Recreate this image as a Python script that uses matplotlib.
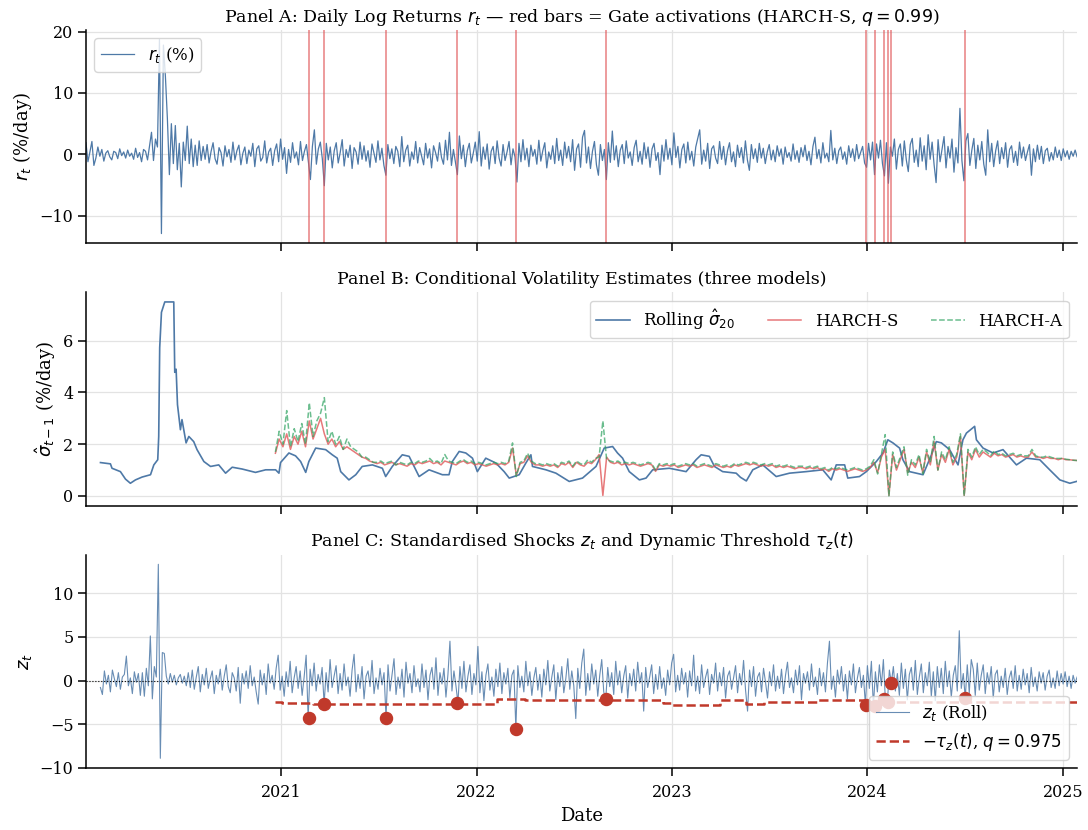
#!/usr/bin/env python
"""
Three-panel volatility figure: returns with gate activations, conditional
volatility estimates and standardised shocks with the dynamic threshold.
"""
import numpy as np
import pandas as pd
import matplotlib
matplotlib.use("Agg")
import matplotlib.pyplot as plt
import matplotlib.dates as mdates

plt.rc("font", family="DejaVu Serif", size=11)
plt.rc("axes", grid=True, axisbelow=True, linewidth=1.1, edgecolor="black",
       titlesize=12.5, labelsize=13)
plt.rc("grid", color="#e3e3e3", linewidth=0.9)
plt.rc(["xtick", "ytick"], labelsize=11.5, direction="out")
plt.rc("xtick.major", size=5.5, width=1.1, pad=6)
plt.rc("ytick.major", size=5.5, width=1.1)

START = "2020-01-02"
END = "2025-01-27"

# daily log returns (%), read about every 2.5 trading days
R_T = [
    1.9, -1.2, 0.4, 2.1, -1.8, -0.6, 1.2, -0.3, 0.8, -1.1, 0.2, 0.6, -0.4, -0.9, 0.5, 0.3, -0.7, 0.9, -0.2, 0.4,
    -0.6, 0.7, -0.3, 0.2, -0.8, 1.0, -0.5, 0.3, -1.2, 0.8, 0.5, -0.9, 1.3, 3.6, -1.0, 2.5, 1.2, 18.7, -12.9, 17.8,
    12.7, 5.8, -3.3, 5.0, -1.5, 4.7, -2.5, 1.8, -5.3, 2.0, -1.0, 4.6, -1.5, 2.5, -2.0, 1.5, -1.8, 2.2, -1.0, 1.3,
    -0.8, 1.6, -1.4, 0.5, 1.9, -0.7, -1.6, 1.1, 0.3, -1.9, 1.4, -0.4, 0.8, -1.3, 2.0, -0.9, 0.6, 1.5, -1.7, 0.2,
    1.2, -1.5, 0.7, -0.3, 1.8, -2.0, 0.9, 1.4, -1.1, -0.5, 2.2, -1.4, 0.4, 1.0, -1.8, 0.6, 1.7, -1.2, 2.5, -0.8,
    1.1, -3.1, 0.8, -1.3, 1.9, -0.6, 0.4, -1.7, 2.1, -1.0, 0.5, 1.6, -1.2, -4.1, 1.3, 4.0, -1.6, 0.9, 2.0, -0.7,
    -5.1, 1.8, -0.9, 1.2, -2.2, 0.6, 1.9, -1.4, 0.3, 2.4, -1.9, 0.8, -0.5, 1.5, -2.3, 1.1, 0.4, -1.6, 2.0, -0.8,
    1.4, -1.1, 0.6, -2.1, 1.7, 0.2, -1.3, 2.2, -0.9, 1.0, -1.8, -3.4, 1.6, -0.7, 0.9, -1.5, 1.3, 0.5, -2.0, 2.9,
    -1.2, 0.7, 1.5, -1.9, 0.4, -0.8, 2.1, -1.4, 1.1, -0.3, -1.7, 1.8, -0.6, 0.9, -2.2, 1.4, 0.3, -1.1, 1.9, -0.5,
    -1.6, 2.3, -0.9, 3.6, -1.8, 0.8, -1.2, -3.3, 3.0, -0.7, 1.5, -2.0, 0.6, 1.8, -1.4, 0.2, 2.0, -1.1, 3.7, -1.9,
    1.2, -0.8, 1.7, -2.4, 0.5, 1.3, -1.5, 2.2, -0.6, -1.9, 1.6, -1.0, 0.4, 2.1, -1.7, 0.9, -0.4, -4.5, 1.8, -1.2,
    2.4, -0.9, 1.0, -2.0, 1.5, -0.3, 0.8, -1.6, 2.3, -1.1, 0.6, 1.9, -2.2, 0.4, -0.8, 1.4, -1.5, 2.6, -1.0, 0.7,
    -1.8, 2.0, -0.6, 1.3, -1.2, 2.4, -2.6, 0.9, 1.7, -2.1, 2.8, 3.9, -1.4, 1.2, -2.3, 0.5, 2.1, -1.7, -3.4, 1.6,
    -1.0, 0.8, -4.1, 1.9, -1.3, 3.8, -0.9, 1.4, -2.0, 0.7, 1.6, -1.5, 2.2, -0.6, 0.4, -1.8, 1.1, 2.3, -1.2, 0.5,
    -1.6, 1.9, -0.7, 1.2, -2.1, 0.9, 1.8, -1.0, 0.3, -3.3, 1.5, -1.1, 2.4, -0.8, 1.0, -1.7, 3.5, -0.5, 1.3, -2.2,
    0.8, 1.7, -1.4, 2.0, -0.9, 0.5, -1.9, 1.2, 2.6, 4.0, -1.6, 0.7, -1.1, 1.8, -2.3, 0.9, 1.4, -0.6, -1.5, 2.1,
    -0.8, 1.3, -1.7, 0.6, 1.9, -1.2, 0.4, -2.0, 1.5, -0.5, 1.1, -1.4, 2.2, -0.9, -2.6, 1.6, -0.7, 0.9, -1.3, 1.8,
    -0.6, 1.0, -1.5, 0.4, 1.6, -0.9, 0.7, -1.2, 1.4, -0.3, 0.9, -1.6, 1.2, -0.5, 0.3, -1.1, 1.7, -0.8, 0.6, -1.3,
    1.1, -0.4, 1.5, -1.0, 0.5, -1.7, 1.3, 2.8, -0.7, 0.8, -1.4, 1.9, -0.6, 0.2, -1.2, 3.9, -0.9, 1.0, -1.5, 0.6,
    1.2, -0.8, 0.4, -1.6, 1.4, -0.5, 0.9, -1.1, 1.6, -0.7, 0.3, 1.3, -1.4, -2.1, 1.8, -0.9, 2.0, -3.3, 1.7, -0.6,
    2.3, -1.5, -3.5, 1.9, -4.7, 1.2, -0.3, 2.5, -2.4, 0.8, 1.7, -1.9, 2.2, -0.9, -2.8, 1.6, 2.6, -1.3, 0.7, -2.0,
    2.7, -1.1, 1.4, -2.5, 3.2, -0.8, 2.0, -1.7, -4.6, 2.4, -1.2, 0.9, 2.9, -2.2, 1.3, -0.6, 2.5, -2.9, 1.1, -1.4,
    7.5, -1.0, -4.3, 2.2, 3.4, -1.8, 0.7, 2.6, -2.3, 1.5, -0.9, 2.1, -1.6, -3.4, 4.0, -1.2, 1.8, -2.0, 0.6, 2.2,
    -1.5, 1.1, -0.7, 1.9, -2.1, 0.8, 1.4, -1.3, 0.5, -1.8, 2.0, -0.6, 1.2, -1.0, 0.4, 1.6, -3.4, 0.9, -1.2, 1.5,
    -0.8, 1.3, -1.5, 0.6, 1.0, -1.1, 0.3, -0.9, 1.2, -0.5, 0.7, -1.0, 0.9, -0.4, 0.6, -0.8, 0.5, -0.3, 0.7, -0.4,
]

# standardised shocks z_t (rolling sigma), same reading, from late Jan 2020
Z_START = "2020-01-29"
Z_T = [
    -0.8, -1.6, 1.1, -0.4, 0.6, -1.3, 1.2, 0.2, -0.7, 0.9, -1.0, 0.4, 0.7, 2.8, -0.6, 0.3, -1.5, 1.0, -0.2, 0.8,
    -1.7, 0.9, -1.8, 1.4, -0.6, 5.1, -2.1, 1.6, 0.4, 13.3, -8.9, 3.2, 3.1, 0.5, -0.4, 0.8, -0.2, 0.6, -0.5, 0.3,
    0.7, -0.3, 0.5, -0.6, 0.9, -0.8, 1.2, -1.0, 0.4, 1.6, -1.3, 0.7, -0.5, 1.4, -0.9, 0.2, 1.1, -1.5, 0.6, -0.4,
    1.3, -1.1, 0.5, 1.8, -0.7, -1.4, 0.9, 0.3, -1.2, 1.5, -2.6, 0.8, -0.4, 1.1, -0.9, 1.7, -0.6, 0.4, -1.3, -2.7,
    1.2, -0.5, 0.8, -1.6, 1.9, -0.3, 0.6, -1.0, 1.4, 2.9, -1.1, 0.5, -1.8, 1.0, -0.7, 2.2, -1.4, 0.3, 1.6, -0.9,
    1.1, -1.7, 0.4, 2.9, -4.27, 1.3, -0.6, 2.0, -1.2, 0.7, -0.4, 1.5, -2.68, 0.9, -1.3, 2.4, -0.8, 0.5, 1.7, -1.5,
    0.8, -1.1, 1.9, -0.6, 0.4, -1.8, 1.2, 3.0, -1.3, 0.7, -0.9, 1.6, -2.1, 0.5, 1.1, -0.7, 2.3, -1.5, 0.3, -1.0,
    1.4, -0.5, 0.9, -4.24, 1.8, -1.2, 0.6, 2.5, -1.6, 0.4, -0.9, 1.3, -1.9, 2.1, -0.3, 0.8, -1.4, 1.7, -0.7, 0.2,
    -1.3, 1.9, -0.8, 1.2, -2.2, 0.6, 1.5, -1.0, 2.6, -1.7, 0.9, -0.4, 1.4, -1.9, 0.7, 4.5, -1.2, 1.1, -0.6, -2.57,
    1.6, -0.9, 2.2, -1.3, 0.5, 1.8, -1.6, 0.8, -0.5, 3.9, -1.4, 1.0, -2.3, 0.6, 1.9, -1.1, 0.4, -1.8, 1.3, -0.7,
    2.0, -1.5, 0.9, -0.4, 1.4, -2.0, 0.6, 1.2, -5.52, 1.7, -0.8, 0.5, -1.3, 2.2, -0.6, 1.0, -1.7, 0.3, 1.5, -1.1,
    0.7, -1.9, 1.3, -0.5, 2.3, -1.2, 0.4, 1.8, -2.2, 0.9, -0.7, 1.6, -1.4, 0.2, 2.5, -1.0, 1.1, -0.6, -4.35, 1.4,
    -0.9, 2.0, 3.6, -1.7, 0.8, -1.1, 1.9, -0.4, 1.2, -1.8, 0.6, 2.4, -1.3, -2.16, 1.5, -0.7, 0.9, -1.6, 2.2, -0.5,
    1.1, -1.4, 0.5, 1.7, -2.0, 0.8, -0.6, 1.3, -1.2, 2.1, -0.3, 0.9, -3.5, 1.5, -0.8, 0.4, 1.8, -1.5, 0.7, -1.0,
    1.6, -0.9, 0.3, -1.7, 1.2, -0.5, 2.0, 3.0, -1.3, 0.6, -1.1, 1.4, -0.4, 0.9, -1.9, 1.1, -0.6, 2.9, -1.2, 0.5,
    -1.5, 1.8, -0.8, 0.4, 1.3, -1.6, 0.7, -0.3, 2.0, -1.2, 0.9, -0.6, 1.5, -2.0, 0.5, 1.1, -1.0, 0.3, 1.7, -1.4,
    0.8, -0.5, 2.3, -1.1, -3.5, 1.2, -0.7, 1.6, -1.8, 0.4, 0.9, -1.3, 1.4, -0.2, -2.0, 1.0, -0.6, 1.8, -1.2, 0.5,
    -0.9, 1.3, -1.5, 0.6, 2.1, -0.8, 0.3, -1.4, 1.2, -0.5, 1.7, -2.2, 0.8, -0.3, 1.0, -1.1, 1.9, -0.7, 0.4, -1.6,
    1.4, -0.6, 0.9, -1.3, 2.0, 4.5, -1.0, 0.5, -1.9, 1.2, -0.4, 1.6, -1.2, 0.7, -2.1, 1.1, -0.5, 1.9, -1.4, 0.3,
    1.5, -0.8, 0.6, -2.8, 1.7, -0.9, 2.2, -2.95, 1.0, -1.3, 1.8, -0.6, 2.4, -2.16, -2.5, 1.2, -0.26, 1.6, -1.2, 0.8,
    -1.7, 2.0, -0.9, 1.3, -2.2, 0.7, 1.5, -1.1, 2.3, -1.6, 0.4, 1.9, -1.4, 0.9, -0.6, 2.1, -1.8, 1.0, -2.3, 1.6,
    -0.8, 1.4, -1.5, 2.2, -0.7, 1.1, -1.9, 0.6, 1.7, -1.2, 5.7, -0.9, 0.8, -2.0, 1.8, -1.4, 2.4, 1.3, -1.7, 2.0,
    -1.1, 0.6, 1.8, -1.5, 0.9, -0.4, 1.6, -2.0, 0.7, 1.2, -1.3, 0.5, -0.8, 1.4, -1.6, 0.3, 1.1, -0.9, 1.7, -1.2,
    0.6, -1.0, 1.3, -0.5, 0.8, -1.4, 1.5, -0.7, 0.4, -1.2, 1.0, -0.3, 0.9, -1.1, 0.5, 1.2, -0.8, 0.3, -0.9, 1.1,
    -0.6, 0.8, -0.4, 1.0, -0.7, 0.5, -0.9, 0.6, -0.3, 0.4,
]

# rolling 20-day sigma, (decimal year, %/day) turning points
SIGMA_ROLL = [
    (2020.077, 1.29), (2020.128, 1.24), (2020.136, 1.07), (2020.179, 0.94),
    (2020.205, 0.65), (2020.230, 0.49), (2020.256, 0.62), (2020.290, 0.73),
    (2020.333, 0.82), (2020.350, 1.20), (2020.370, 1.40), (2020.375, 2.30),
    (2020.380, 5.73), (2020.389, 7.10), (2020.406, 7.50), (2020.452, 7.50),
    (2020.457, 4.78), (2020.464, 4.90), (2020.471, 3.53), (2020.486, 2.56),
    (2020.494, 2.95), (2020.515, 2.05), (2020.529, 2.30), (2020.554, 2.10),
    (2020.571, 1.79), (2020.606, 1.33), (2020.640, 1.14), (2020.682, 1.20),
    (2020.717, 0.88), (2020.751, 1.11), (2020.802, 1.04), (2020.870, 0.91),
    (2020.922, 1.01), (2020.973, 1.01), (2020.990, 0.88), (2020.998, 1.29),
    (2021.041, 1.66), (2021.075, 1.55), (2021.101, 1.33), (2021.127, 0.91),
    (2021.143, 1.33), (2021.178, 1.85), (2021.229, 1.79), (2021.263, 1.59),
    (2021.288, 1.46), (2021.306, 0.94), (2021.348, 0.62), (2021.383, 0.82),
    (2021.416, 1.14), (2021.468, 1.20), (2021.519, 1.07), (2021.536, 0.75),
    (2021.570, 1.14), (2021.621, 1.59), (2021.656, 1.53), (2021.690, 1.01),
    (2021.707, 0.75), (2021.758, 1.01), (2021.826, 0.82), (2021.860, 0.82),
    (2021.877, 1.33), (2021.912, 1.72), (2021.946, 1.66), (2021.980, 1.46),
    (2022.005, 0.94), (2022.048, 1.46), (2022.100, 1.27), (2022.142, 0.94),
    (2022.168, 0.69), (2022.219, 0.82), (2022.253, 1.27), (2022.279, 1.59),
    (2022.287, 1.14), (2022.356, 1.01), (2022.407, 0.88), (2022.475, 0.56),
    (2022.543, 0.69), (2022.612, 1.14), (2022.654, 1.85), (2022.697, 1.91),
    (2022.722, 1.66), (2022.748, 1.46), (2022.782, 0.94), (2022.834, 0.62),
    (2022.868, 0.69), (2022.902, 1.01), (2022.987, 1.07), (2023.073, 0.94),
    (2023.124, 1.40), (2023.150, 1.59), (2023.192, 1.53), (2023.218, 1.14),
    (2023.260, 0.94), (2023.329, 0.88), (2023.351, 0.72), (2023.381, 0.58),
    (2023.414, 1.01), (2023.465, 1.20), (2023.534, 0.75), (2023.602, 0.88),
    (2023.687, 0.94), (2023.772, 1.01), (2023.815, 0.62), (2023.841, 1.20),
    (2023.884, 1.20), (2023.900, 0.69), (2023.960, 0.75), (2023.995, 0.94),
    (2024.046, 1.33), (2024.080, 1.66), (2024.105, 2.17), (2024.131, 2.05),
    (2024.165, 1.85), (2024.182, 1.40), (2024.216, 0.94), (2024.285, 0.82),
    (2024.328, 1.59), (2024.353, 2.10), (2024.379, 2.05), (2024.421, 1.79),
    (2024.464, 1.20), (2024.489, 2.17), (2024.507, 2.43), (2024.549, 2.69),
    (2024.558, 2.17), (2024.592, 1.85), (2024.643, 1.66), (2024.694, 1.79),
    (2024.763, 1.20), (2024.814, 1.46), (2024.882, 1.40), (2024.933, 1.01),
    (2024.985, 0.62), (2025.036, 0.49), (2025.070, 0.56),
]

# HARCH forecasts, weekly from 2020-12-21
HARCH_START = "2020-12-21"
HARCH_S = [
    1.65, 2.2, 1.9, 2.4, 1.8, 2.3, 2.0, 2.5, 1.9, 2.9,
    2.2, 2.6, 3.0, 2.4, 2.0, 2.2, 1.9, 2.1, 1.8, 1.9,
    1.8, 1.7, 1.6, 1.5, 1.45, 1.35, 1.3, 1.25, 1.3, 1.2,
    1.25, 1.3, 1.2, 1.25, 1.2, 1.15, 1.25, 1.2, 1.3, 1.25,
    1.3, 1.35, 1.25, 1.3, 1.2, 1.35, 1.3, 1.25, 1.2, 1.3,
    1.35, 1.25, 1.3, 1.2, 1.25, 1.2, 1.15, 1.2, 1.25, 1.2,
    1.25, 1.2, 1.3, 1.85, 0.8, 1.25, 1.3, 1.55, 1.3, 1.2,
    1.2, 1.15, 1.2, 1.15, 1.2, 1.1, 1.25, 1.2, 1.3, 1.1,
    1.3, 1.2, 1.15, 1.3, 1.25, 1.4, 1.6, 0.02, 1.5, 1.3,
    1.25, 1.3, 1.2, 1.25, 1.2, 1.25, 1.2, 1.15, 1.2, 1.25,
    1.2, 0.95, 1.2, 1.15, 1.2, 1.15, 1.2, 1.1, 1.15, 1.2,
    1.15, 1.2, 1.1, 1.15, 1.2, 1.15, 1.1, 1.2, 1.15, 1.1,
    1.15, 1.1, 1.2, 1.15, 1.2, 1.25, 1.2, 1.25, 1.2, 1.15,
    1.2, 1.15, 1.2, 1.1, 1.15, 1.1, 1.15, 1.1, 1.05, 1.1,
    1.1, 1.05, 1.1, 1.05, 1.1, 1.0, 1.05, 0.95, 1.05, 1.0,
    1.05, 1.0, 0.95, 1.0, 1.05, 1.0, 0.95, 1.0, 1.1, 1.3,
    0.9, 1.5, 1.8, 0.02, 1.6, 1.0, 1.4, 1.8, 0.9, 1.3,
    1.1, 1.5, 0.9, 1.7, 1.2, 2.1, 1.0, 1.6, 1.3, 1.8,
    1.2, 1.5, 2.3, 0.02, 1.7, 1.4, 1.8, 1.5, 1.7, 1.6,
    1.5, 1.65, 1.55, 1.6, 1.5, 1.55, 1.6, 1.5, 1.55, 1.5,
    1.5, 1.7, 1.5, 1.5, 1.45, 1.5, 1.45, 1.45, 1.4, 1.45,
    1.4, 1.4, 1.38, 1.37,
]
HARCH_A = [
    1.7, 2.5, 2.0, 3.3, 1.9, 2.6, 2.1, 2.8, 2.0, 3.6,
    2.3, 2.9, 3.2, 3.8, 2.1, 2.5, 2.0, 2.3, 1.8, 2.2,
    1.9, 1.8, 1.7, 1.5, 1.5, 1.4, 1.3, 1.3, 1.35, 1.25,
    1.3, 1.35, 1.2, 1.3, 1.25, 1.2, 1.3, 1.25, 1.35, 1.3,
    1.35, 1.45, 1.3, 1.35, 1.25, 1.6, 1.35, 1.3, 1.25, 1.35,
    1.4, 1.3, 1.35, 1.25, 1.3, 1.25, 1.2, 1.25, 1.3, 1.25,
    1.3, 1.25, 1.35, 2.05, 0.75, 1.3, 1.35, 1.65, 1.35, 1.25,
    1.25, 1.2, 1.25, 1.2, 1.25, 1.15, 1.3, 1.25, 1.35, 1.15,
    1.35, 1.25, 1.2, 1.4, 1.3, 1.45, 1.5, 2.9, 1.4, 1.35,
    1.3, 1.35, 1.25, 1.3, 1.25, 1.3, 1.25, 1.2, 1.25, 1.3,
    1.25, 1.0, 1.25, 1.2, 1.25, 1.2, 1.25, 1.15, 1.2, 1.25,
    1.2, 1.25, 1.15, 1.2, 1.25, 1.2, 1.15, 1.25, 1.2, 1.15,
    1.2, 1.15, 1.25, 1.2, 1.25, 1.3, 1.25, 1.3, 1.25, 1.2,
    1.25, 1.2, 1.25, 1.15, 1.2, 1.15, 1.2, 1.15, 1.1, 1.15,
    1.15, 1.1, 1.15, 1.1, 1.15, 1.05, 1.1, 1.0, 1.1, 1.05,
    1.1, 1.05, 1.0, 1.05, 1.1, 1.05, 1.0, 1.05, 1.15, 1.4,
    0.85, 1.6, 2.37, 0.0, 1.7, 1.1, 1.5, 1.9, 0.8, 1.4,
    1.2, 1.6, 0.85, 1.8, 1.3, 2.3, 1.0, 1.7, 1.4, 1.9,
    1.3, 1.6, 2.4, 0.0, 1.8, 1.5, 1.9, 1.6, 1.8, 1.7,
    1.55, 1.75, 1.6, 1.65, 1.55, 1.6, 1.65, 1.55, 1.6, 1.55,
    1.55, 1.8, 1.55, 1.5, 1.5, 1.55, 1.5, 1.45, 1.45, 1.45,
    1.42, 1.4, 1.38, 1.37,
]

# gate activations (HARCH-S, q = 0.99) and z_t on those days
GATE_DATES = [
    "2021-02-22", "2021-03-22", "2021-07-16", "2021-11-26", "2022-03-16",
    "2022-08-30", "2023-12-29", "2024-01-15", "2024-02-02", "2024-02-08",
    "2024-02-15", "2024-07-01",
]
GATE_Z = [-4.27, -2.68, -4.24, -2.57, -5.52, -2.16, -2.80, -2.95, -2.16,
          -2.50, -0.26, -2.00]

# dynamic threshold -tau_z(t), q = 0.975 (step changes)
TAU_DATES = [
    "2020-12-21", "2021-01-03", "2021-03-01", "2022-02-08", "2022-04-01",
    "2022-07-01", "2022-12-15", "2023-01-01", "2023-03-31", "2023-05-20",
    "2023-06-22", "2023-10-01", "2024-01-01",
]
TAU_VALS = [-2.40, -2.57, -2.72, -2.08, -2.18, -2.27, -2.53, -2.76, -2.27,
            -2.72, -2.46, -2.27, -2.46]

BLUE = "#4e79a7"
RED = "#e15759"
GREEN = "#2ca25f"
DARK_RED = "#c0392b"


def decimal_year_to_date(yrs):
    yrs = np.asarray(yrs, dtype=float)
    return pd.Timestamp("2020-01-01") + pd.to_timedelta((yrs - 2020.0) * 365.25, unit="D")


def main():
    r_dates = pd.date_range(START, END, periods=len(R_T))
    z_dates = pd.date_range(Z_START, END, periods=len(Z_T))
    h_dates = pd.date_range(HARCH_START, END, periods=len(HARCH_S))
    sig_t, sig_v = zip(*SIGMA_ROLL)
    sig_dates = decimal_year_to_date(sig_t)
    gates = pd.to_datetime(GATE_DATES)
    tau_dates = list(pd.to_datetime(TAU_DATES)) + [pd.Timestamp(END)]
    tau_vals = TAU_VALS + [TAU_VALS[-1]]

    fig, axes = plt.subplots(3, 1, figsize=(10.88, 8.3), dpi=100, sharex=True)
    fig.subplots_adjust(left=0.079, right=0.99, top=0.964, bottom=0.0747,
                        hspace=0.2295)
    ax_a, ax_b, ax_c = axes

    # Panel A
    ax_a.plot(r_dates, R_T, color=BLUE, lw=0.9, label="$r_t$ (%)")
    for g in gates:
        ax_a.axvline(g, color=RED, lw=1.4, alpha=0.6)
    ax_a.set_ylabel("$r_t$ (%/day)")
    ax_a.set_title("Panel A: Daily Log Returns $r_t$ \u2014 red bars = Gate "
                   "activations (HARCH-S, $q = 0.99$)")
    ax_a.legend(loc="upper left", fontsize=12, framealpha=0.8)

    # Panel B
    ax_b.plot(sig_dates, sig_v, color=BLUE, lw=1.2, label="Rolling $\\hat{\\sigma}_{20}$")
    ax_b.plot(h_dates, HARCH_S, color=RED, lw=1.1, alpha=0.8, label="HARCH-S")
    ax_b.plot(h_dates, HARCH_A, color=GREEN, lw=1.1, ls="--", alpha=0.7,
              label="HARCH-A")
    ax_b.set_ylabel("$\\hat{\\sigma}_{t-1}$ (%/day)")
    ax_b.set_title("Panel B: Conditional Volatility Estimates (three models)")
    ax_b.legend(loc="upper right", ncol=3, fontsize=12, framealpha=0.8,
                columnspacing=2.0)

    # Panel C
    ax_c.plot(z_dates, Z_T, color=BLUE, lw=0.8, alpha=0.85, label="$z_t$ (Roll)")
    ax_c.axhline(0, color="black", lw=0.8, ls=":")
    ax_c.step(tau_dates, tau_vals, where="post", color=DARK_RED, lw=1.8,
              ls="--", label="$-\\tau_z(t)$, $q = 0.975$")
    ax_c.scatter(gates, GATE_Z, s=75, color=DARK_RED, zorder=5)
    ax_c.set_ylabel("$z_t$")
    ax_c.set_xlabel("Date")
    ax_c.set_title("Panel C: Standardised Shocks $z_t$ and Dynamic Threshold "
                   "$\\tau_z(t)$")
    ax_c.legend(loc="lower right", fontsize=12, framealpha=0.8)

    for ax in axes:
        ax.spines["top"].set_visible(False)
        ax.spines["right"].set_visible(False)
    ax_c.xaxis.set_major_locator(mdates.YearLocator())
    ax_c.xaxis.set_major_formatter(mdates.DateFormatter("%Y"))
    ax_c.set_xlim(r_dates[0], r_dates[-1])

    fig.savefig("out.png", dpi=100)


if __name__ == "__main__":
    main()
